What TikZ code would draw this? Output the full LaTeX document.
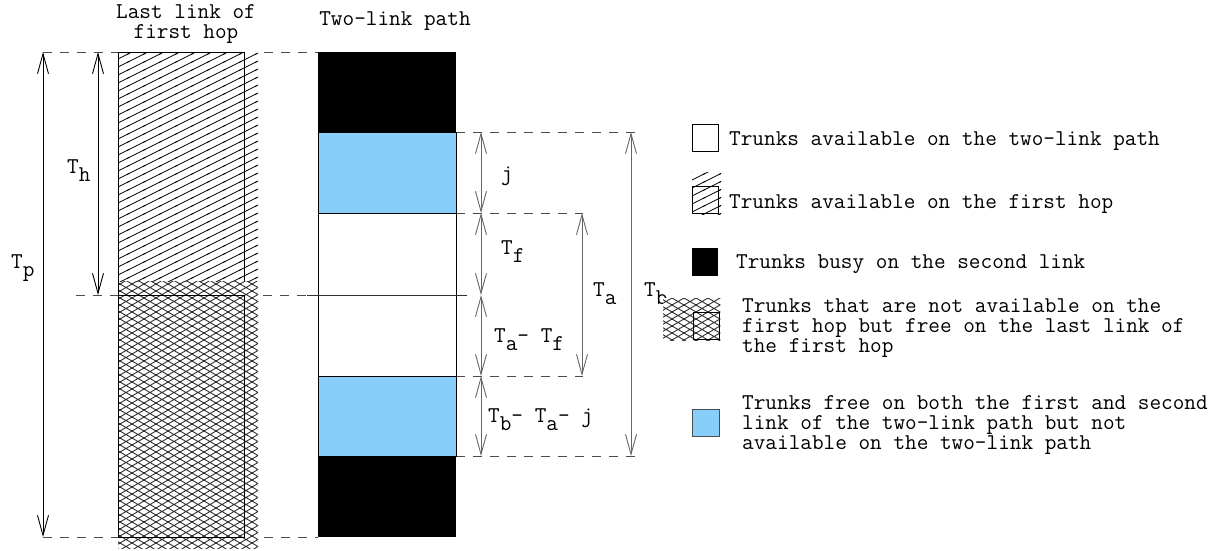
\documentclass[tikz,border=0pt]{standalone}
\usepackage{fontspec}
\usetikzlibrary{arrows.meta,patterns}

% shallow forward hatching
\pgfdeclarepatternformonly{fwdhatch}{\pgfqpoint{-1pt}{-1pt}}{\pgfqpoint{17pt}{9pt}}{\pgfqpoint{16pt}{8pt}}{%
  \pgfsetlinewidth{0.8pt}%
  \pgfpathmoveto{\pgfqpoint{-1pt}{-0.5pt}}%
  \pgfpathlineto{\pgfqpoint{17pt}{8.5pt}}%
  \pgfusepath{stroke}}
% diamond cross-hatching
\pgfdeclarepatternformonly{diamondhatch}{\pgfqpoint{-1pt}{-1pt}}{\pgfqpoint{13pt}{8pt}}{\pgfqpoint{12pt}{7pt}}{%
  \pgfsetlinewidth{0.9pt}%
  \pgfpathmoveto{\pgfqpoint{-1pt}{-0.583pt}}%
  \pgfpathlineto{\pgfqpoint{13pt}{7.583pt}}%
  \pgfpathmoveto{\pgfqpoint{-1pt}{7.583pt}}%
  \pgfpathlineto{\pgfqpoint{13pt}{-0.583pt}}%
  \pgfusepath{stroke}}

\definecolor{skyfill}{RGB}{135,206,250}
\newcommand{\dn}[1]{\raisebox{-8pt}{#1}}

\tikzset{
  txt/.style={inner sep=0pt, anchor=base west},
  guide/.style={draw=black!70, line width=0.8pt, dash pattern=on 9pt off 8pt},
  dimarrow/.style={draw=black!60, line width=0.9pt, {Straight Barb[length=20pt,width=11pt]}-{Straight Barb[length=20pt,width=11pt]}},
  bigarrow/.style={draw=black, line width=0.9pt, {Straight Barb[length=20pt,width=11pt]}-{Straight Barb[length=20pt,width=11pt]}},
  cell/.style={draw=black, line width=0.8pt},
  hatchfill/.style={pattern=fwdhatch, pattern color=black},
  diamfill/.style={pattern=diamondhatch, pattern color=black!80},
}

\begin{document}
\begin{tikzpicture}[x=1pt, y=-1pt, font=\ttfamily\fontsize{22.6}{20.3}\selectfont]
\useasboundingbox (0,0) rectangle (1219,550);

% ---- guide lines ----
\draw[guide] (43,52) -- (318,52);
\draw[guide] (76,295) -- (318,295);
\draw[guide] (43,537) -- (318,537);
\draw[guide] (456,132) -- (636,132);
\draw[guide] (456,213) -- (583,213);
\draw[guide] (456,376) -- (583,376);
\draw[guide] (456,456) -- (636,456);

% ---- last link of the first hop ----
\fill[white] (118,52) rectangle (258,548);
\fill[hatchfill] (118,52) rectangle (258,281);
\fill[diamfill] (118,281) rectangle (258,548);
\draw[cell] (244,281) -- (244,52) -- (118,52) -- (118,537);
\draw[cell] (118,295) rectangle (244,537);

\node[txt, anchor=base] (titleA) at (186,18) {\begin{tabular}[t]{@{}c@{}}Last link of\\first hop\end{tabular}};

% ---- two-link path ----
\fill[black] (318,52) rectangle (456,132);
\draw[cell, fill=skyfill] (318,132) rectangle (456,213);
\draw[cell, fill=white] (318,213) rectangle (456,295);
\draw[cell, fill=white] (318,295) rectangle (456,376);
\draw[cell, fill=skyfill] (318,376) rectangle (456,456);
\fill[black] (318,456) rectangle (456,537);
\draw[black!80, line width=0.8pt] (307,295) -- (467,295);

\node[txt, anchor=base] (titleC) at (395,25) {Two-link path};

% ---- dimension coordinates ----
\coordinate (p0) at (43,52);  \coordinate (p6) at (43,537);
\coordinate (h0) at (98,52);  \coordinate (h3) at (98,295);
\coordinate (d1) at (481,132); \coordinate (d2) at (481,213);
\coordinate (d3) at (481,295); \coordinate (d4) at (481,376);
\coordinate (d5) at (481,456);
\coordinate (a2) at (582,213); \coordinate (a4) at (582,376);
\coordinate (b1) at (631,132); \coordinate (b5) at (631,456);

\draw[bigarrow] (p0) -- (p6);
\draw[bigarrow] (h0) -- (h3);
\draw[dimarrow] (d1) -- (d2);
\draw[dimarrow] (d2) -- (d3);
\draw[dimarrow] (d3) -- (d4);
\draw[dimarrow] (d4) -- (d5);
\draw[dimarrow] (a2) -- (a4);
\draw[dimarrow] (b1) -- (b5);

\node[txt] (lp) at (11,268) {T\dn{p}};
\node[txt] (lh) at (67,173) {T\dn{h}};
\node[txt] (lj) at (501,180) {j};
\node[txt] (lf) at (501,254) {T\dn{f}};
\node[txt] (laf) at (494,342) {T\dn{a}- T\dn{f}};
\node[txt] (lbaj) at (488,422) {T\dn{b}- T\dn{a}- j};
\node[txt] (la) at (593,296) {T\dn{a}};
\node[txt] (lb) at (644,296) {T\dn{b}};

% ---- legend ----
\draw[cell] (692,124) rectangle (718,151);
\node[txt] (k1) at (729,145) {Trunks available on the two-link path};

\begin{scope}
  \clip (692,172) rectangle (721,214);
  \fill[hatchfill] (692,172) rectangle (721,214);
\end{scope}
\draw[cell] (692,186) rectangle (718,213);
\node[txt] (k2) at (729,208) {Trunks available on the first hop};

\fill[black] (692,248) rectangle (718,276);
\node[txt] (k3) at (736,268) {Trunks busy on the second link};

\fill[white] (663,298) rectangle (720,340);
\fill[diamfill] (663,298) rectangle (720,340);
\draw[cell] (693,312) rectangle (719,339);
\node[txt] (k4) at (742,312) {\begin{tabular}[t]{@{}l@{}}Trunks that are not available on the\\first hop but free on the last link of\\the first hop\end{tabular}};

\draw[cell, draw=black!70, fill=skyfill] (692,409) rectangle (719,436);
\node[txt] (k5) at (742,409) {\begin{tabular}[t]{@{}l@{}}Trunks free on both the first and second\\link of the two-link path but not\\available on the two-link path\end{tabular}};
\end{tikzpicture}
\end{document}
